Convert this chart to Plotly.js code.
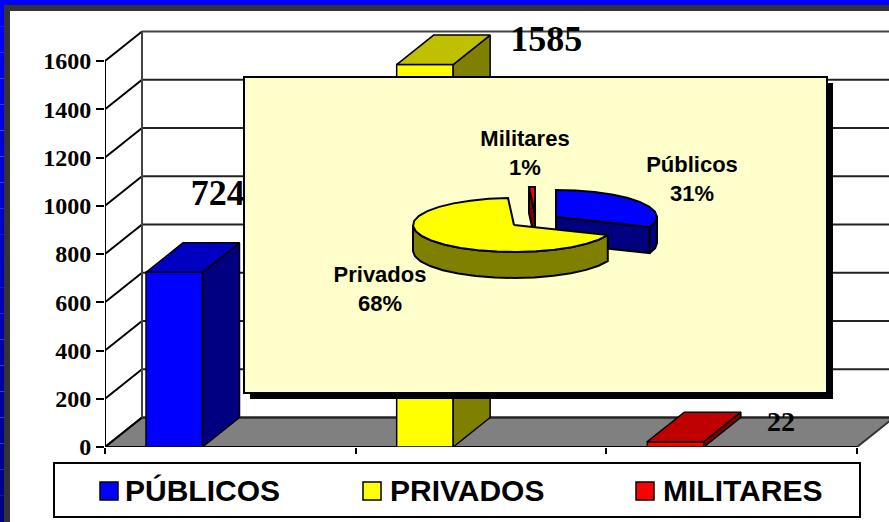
<!DOCTYPE html>
<html><head><meta charset="utf-8">
<script src="https://cdn.plot.ly/plotly-3.0.1.min.js"></script>
<style>html,body{margin:0;padding:0;background:#fff;overflow:hidden}</style>
</head><body><div id="chart" style="width:889px;height:522px"></div>
<script>
// ---- data ----
var categories = ['PÚBLICOS', 'PRIVADOS', 'MILITARES'];
var pieNames = ['Públicos', 'Privados', 'Militares'];
var values = [724, 1585, 22];
var yTicks = [0, 200, 400, 600, 800, 1000, 1200, 1400, 1600];
var frontColors = ['#0000FF', '#FFFF00', '#FF0000'];
var topColors = ['#0000C0', '#C0C000', '#C00000'];
var sideColors = ['#000080', '#808000', '#800000'];

// ---- layout constants ----
var W = 889, H = 522;
var X0 = 105, X1 = 857, Y0 = 447, Y1600 = 61, PTOP = 11;
var xUnit = (X1 - X0) / 3, yUnit = (Y0 - Y1600) / 1600;
var DX = 37 / xUnit, DY = 29.5 / yUnit;
var xMax = -0.5 + (W - X0) / xUnit, yMax = (Y0 - PTOP) / yUnit;
var barOffset = -0.5 + 41 / xUnit, barWidth = 56.5 / xUnit;
var labelX = [-0.05, 1.26, 2.197], labelY = [1040, 1679, 95], labelSize = [36, 36, 28];

var shapes = [], traces = [], annotations = [];
function rect(xref, yref, x0, y0, x1, y1, fill, line, lw, layer) {
  shapes.push({type: 'rect', xref: xref, yref: yref, x0: x0, y0: y0, x1: x1, y1: y1,
    fillcolor: fill, line: {color: line || fill, width: lw === undefined ? 0 : lw}, layer: layer || 'below'});
}
function line(x0, y0, x1, y1, color, w) {
  shapes.push({type: 'line', xref: 'x', yref: 'y', x0: x0, y0: y0, x1: x1, y1: y1,
    line: {color: color, width: w}, layer: 'below'});
}
function poly(xs, ys, fill, xa, ya, lw) {
  traces.push({type: 'scatter', mode: 'lines', x: xs.concat(xs[0]), y: ys.concat(ys[0]), fill: 'toself',
    fillcolor: fill, line: {color: '#000', width: lw === undefined ? 1.5 : lw}, xaxis: xa || 'x', yaxis: ya || 'y',
    hoverinfo: 'skip', showlegend: false});
}

// page frame (paper coordinates, y up)
function px(x) { return x / W; }
function py(y) { return 1 - y / H; }
rect('paper', 'paper', 0, py(0), 1, py(5), '#0000FF');
rect('paper', 'paper', px(4), py(5), 1, py(11), '#333333');
rect('paper', 'paper', px(4), py(5), px(10), 0, '#333333');
for (var s = 0; s < 20; s++) {
  var t = s / 19;
  rect('paper', 'paper', 0, py(H * s / 20), px(4), py(H * (s + 1) / 20),
    'rgb(0,0,' + Math.round(255 - 120 * t) + ')');
}

// floor and walls, in axis coordinates
var xL = -0.5, xR = 2.5;
shapes.push({type: 'path', xref: 'x', yref: 'y', layer: 'below', fillcolor: '#808080',
  line: {color: '#333333', width: 2},
  path: 'M' + xL + ',0L' + xR + ',0L' + (xR + DX) + ',' + DY + 'L' + (xL + DX) + ',' + DY + 'Z'});
yTicks.forEach(function (v) {
  line(xL, v, xL + DX, v + DY, '#000', 2);
  line(xL + DX, v + DY, xR + DX, v + DY, v === 1600 ? '#444444' : '#222222', 2);
});
line(xL + DX, DY, xL + DX, 1600 + DY, '#444444', 2);
line(xL, 0, xL, 1600, '#000', 2);
line(xL, 0, xR, 0, '#000', 2);

// bar fronts
traces.push({type: 'bar', x: [0, 1, 2], y: values, offset: barOffset, width: barWidth,
  marker: {color: frontColors, line: {color: '#000', width: 1.5}}, hoverinfo: 'skip', showlegend: false});

// bar depth faces
values.forEach(function (v, i) {
  var a = i + barOffset, b = a + barWidth;
  poly([b, b + DX, b + DX, b], [0, DY, v + DY, v], sideColors[i]);
  poly([a, b, b + DX, a + DX], [v, v, v + DY, v + DY], topColors[i]);
});

// bar value labels
values.forEach(function (v, i) {
  traces.push({type: 'scatter', mode: 'text', x: [labelX[i]], y: [labelY[i]], text: [String(v)],
    textposition: 'middle center', cliponaxis: false, hoverinfo: 'skip', showlegend: false,
    textfont: {family: 'Liberation Serif', size: labelSize[i], color: '#000', weight: 700}});
});

// inset panel, second axes in page pixels
var P = {l: 244, t: 77, r: 827, b: 393, sh: 6};
rect('x2', 'y2', P.l + P.sh, P.t + P.sh, P.r + P.sh, P.b + P.sh, '#000000', '#000000', 0, 'between');
rect('x2', 'y2', P.l, P.t, P.r, P.b, '#FFFFCC', '#000000', 2, 'between');

// tilted pie
var total = values.reduce(function (a, b) { return a + b; }, 0);
var RX = 101, RY = 27, DEPTH = 26, STEP = 11;
var startAngle = [], endAngle = [], acc = 0;
values.forEach(function (v, i) {
  startAngle[i] = acc; acc += v / total * 360; endAngle[i] = acc;
});
var pieCentre = [[556, 217], [514, 225], [535, 214]];
function pt(c, a, dz) {
  var r = a * Math.PI / 180;
  return [c[0] + RX * Math.sin(r), c[1] - RY * Math.cos(r) + (dz || 0)];
}
function arc(c, a0, a1, dz) {
  var out = [], n = Math.max(1, Math.round((a1 - a0) / STEP));
  for (var k = 0; k <= n; k++) out.push(pt(c, a0 + (a1 - a0) * k / n, dz));
  return out;
}
function polyPts(p, fill) {
  poly(p.map(function (q) { return q[0]; }), p.map(function (q) { return q[1]; }), fill, 'x2', 'y2', 2);
}
function outerWall(c, a0, a1, fill) {
  var from = Math.max(a0, 90), to = Math.min(a1, 270);
  if (to > from) polyPts(arc(c, from, to, 0).concat(arc(c, from, to, DEPTH).reverse()), fill);
}
function cutWall(c, a, fill) {
  var e = pt(c, a);
  polyPts([[c[0], c[1]], e, [e[0], e[1] + DEPTH], [c[0], c[1] + DEPTH]], fill);
}
function topFace(c, a0, a1, fill) {
  polyPts([[c[0], c[1]]].concat(arc(c, a0, a1, 0)), fill);
}
// militares first, then públicos, then privados in front
cutWall(pieCentre[2], startAngle[2], sideColors[2]);
topFace(pieCentre[2], startAngle[2], endAngle[2], frontColors[2]);
cutWall(pieCentre[0], endAngle[0], sideColors[0]);
outerWall(pieCentre[0], startAngle[0], endAngle[0], sideColors[0]);
topFace(pieCentre[0], startAngle[0], endAngle[0], frontColors[0]);
outerWall(pieCentre[1], startAngle[1], endAngle[1], sideColors[1]);
topFace(pieCentre[1], startAngle[1], endAngle[1], frontColors[1]);

var pieLabelPos = [[692, 181], [380, 291], [525, 155]];
pieNames.forEach(function (n, i) {
  traces.push({type: 'scatter', mode: 'text', xaxis: 'x2', yaxis: 'y2', x: [pieLabelPos[i][0]], y: [pieLabelPos[i][1]],
    text: [n + '<br>' + Math.round(values[i] / total * 100) + '%'], textposition: 'middle center',
    cliponaxis: false, hoverinfo: 'skip', showlegend: false,
    textfont: {family: 'Liberation Sans', size: 22, color: '#000', weight: 700}});
});

// legend
rect('paper', 'paper', px(54), py(463), px(860), py(517), '#FFFFFF', '#000000', 2, 'above');
var swatchX = [100, 363, 636], legendTextX = [124, 389, 662];
categories.forEach(function (c, i) {
  rect('paper', 'paper', px(swatchX[i]), py(482), px(swatchX[i] + 18), py(500), frontColors[i], '#000000', 1.5, 'above');
  annotations.push({xref: 'paper', yref: 'paper', x: px(legendTextX[i]), y: py(490), xanchor: 'left', yanchor: 'middle',
    text: c, showarrow: false, borderpad: 0, font: {family: 'Liberation Sans', size: 30, color: '#000', weight: 700}});
});

var layout = {
  width: W, height: H, autosize: false, margin: {l: 0, r: 0, t: 0, b: 0},
  paper_bgcolor: '#FFFFFF', plot_bgcolor: 'rgba(0,0,0,0)', showlegend: false, barmode: 'overlay',
  xaxis: {domain: [X0 / W, 1], range: [-0.5, xMax], tickmode: 'array', tickvals: [-0.5, 0.5, 1.5, 2.5],
    showticklabels: false, ticks: 'outside', ticklen: 6, tickwidth: 2, tickcolor: '#000',
    showgrid: false, zeroline: false, showline: false, fixedrange: true},
  yaxis: {domain: [1 - Y0 / H, 1 - PTOP / H], range: [0, yMax], tickmode: 'array', tickvals: yTicks,
    ticktext: yTicks.map(String), ticks: 'outside', ticklen: 8, tickwidth: 2, tickcolor: '#000',
    tickfont: {family: 'Liberation Serif', size: 24, color: '#000', weight: 700},
    showgrid: false, zeroline: false, showline: false, fixedrange: true},
  xaxis2: {domain: [236 / W, 840 / W], range: [236, 840], anchor: 'y2', visible: false, fixedrange: true},
  yaxis2: {domain: [1 - 410 / H, 1 - 70 / H], range: [410, 70], anchor: 'x2', visible: false, fixedrange: true},
  shapes: shapes, annotations: annotations
};
Plotly.newPlot('chart', traces, layout, {displayModeBar: false, staticPlot: true});
</script></body></html>
